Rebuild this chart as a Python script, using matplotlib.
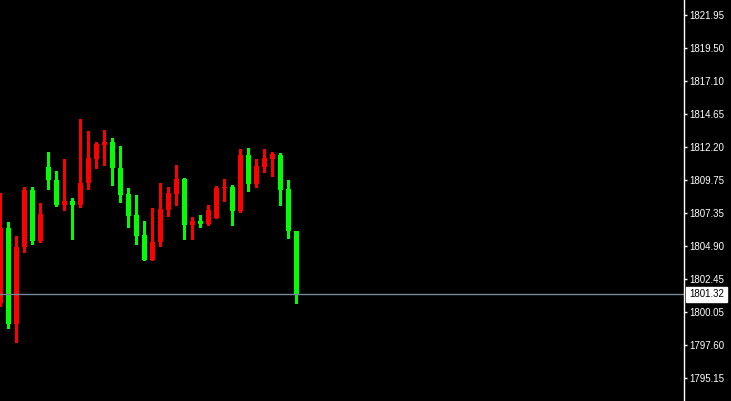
import numpy as np
import matplotlib.pyplot as plt
from matplotlib.transforms import blended_transform_factory

# ==========================
# DATA
# ==========================
opens = [1800.69, 1806.22, 1799.14, 1804.80, 1809.03, 1805.26, 1810.73, 1809.77,
         1807.92, 1808.22, 1807.92, 1809.55, 1811.32, 1812.35, 1812.57, 1810.65,
         1808.73, 1807.18, 1805.71, 1803.86, 1805.19, 1807.55, 1808.73, 1809.84,
         1806.45, 1806.74, 1806.52, 1806.96, 1809.18, 1809.25, 1807.48, 1811.61,
         1809.47, 1810.73, 1811.32, 1811.61, 1809.10, 1806.00]
highs = [1808.81, 1806.67, 1805.63, 1809.25, 1809.25, 1808.07, 1811.84, 1810.43,
         1811.32, 1808.44, 1814.27, 1813.39, 1812.57, 1813.46, 1812.87, 1812.28,
         1809.18, 1808.66, 1806.74, 1807.70, 1809.55, 1809.25, 1810.88, 1809.92,
         1807.04, 1807.18, 1807.92, 1809.33, 1809.84, 1809.40, 1812.06, 1812.13,
         1811.32, 1812.06, 1811.84, 1811.76, 1809.77, 1806.00]
lows = [1800.47, 1798.84, 1797.81, 1804.45, 1805.04, 1805.19, 1809.10, 1807.85,
        1807.55, 1805.41, 1807.77, 1809.10, 1810.65, 1810.88, 1809.40, 1808.14,
        1806.30, 1805.04, 1803.86, 1803.86, 1804.90, 1807.11, 1807.92, 1805.41,
        1805.41, 1806.30, 1806.45, 1806.96, 1808.22, 1806.45, 1807.41, 1808.96,
        1809.25, 1810.36, 1810.06, 1807.92, 1805.49, 1800.69]
closes = [1806.22, 1799.14, 1804.82, 1809.03, 1805.26, 1807.26, 1809.77, 1807.92,
          1808.22, 1807.92, 1809.55, 1811.39, 1812.43, 1812.57, 1810.65, 1808.66,
          1807.11, 1805.63, 1803.86, 1805.19, 1807.63, 1808.81, 1809.84, 1806.45,
          1806.74, 1806.52, 1807.55, 1809.18, 1809.25, 1807.48, 1811.61, 1809.47,
          1810.80, 1811.39, 1811.69, 1809.03, 1806.00, 1801.32]

price_ticks = [1795.15, 1797.60, 1800.05, 1802.45, 1804.90, 1807.35,
               1809.75, 1812.20, 1814.65, 1817.10, 1819.50, 1821.95]
bid_price = 1801.32

# ==========================
# FIGURE
# ==========================
plt.rcParams['font.family'] = ['Liberation Sans', 'DejaVu Sans']

fig = plt.figure(figsize=(7.31, 4.01), dpi=100, facecolor='black')
ax = fig.add_axes([0, 0, 684 / 731, 1])
ax.set_facecolor('black')

x = np.arange(len(opens))
o = np.array(opens)
c = np.array(closes)
colors = np.where(c < o, '#00ff00', '#ff0000')

# wicks
ax.vlines(x, lows, highs, colors=colors, linewidth=1, antialiased=False)

# bodies
bottoms = np.minimum(o, c)
heights = np.maximum(np.abs(c - o), 0.05)
ax.bar(x, heights, bottom=bottoms, width=0.625, color=colors,
       linewidth=0, antialiased=False)

# bid line
ax.axhline(bid_price, color='#778899', linewidth=1)

ax.set_xlim(-0.04, 85.46)
ax.set_ylim(1793.45, 1823.06)

# ==========================
# PRICE AXIS
# ==========================
ax.yaxis.tick_right()
ax.set_yticks(price_ticks)
ax.set_yticklabels([f"{p:.2f}" for p in price_ticks])
ax.tick_params(axis='y', colors='white', length=2.5, width=1,
               labelsize=7, pad=1.5)
ax.set_xticks([])
for side in ['left', 'top', 'bottom']:
    ax.spines[side].set_visible(False)
ax.spines['right'].set_color('white')
ax.spines['right'].set_linewidth(1)

trans = blended_transform_factory(ax.transAxes, ax.transData)
ax.text(1.0 + 5 / 684, bid_price, f"{bid_price:.2f}", transform=trans,
        color='black', fontsize=7, va='center', ha='left',
        bbox=dict(boxstyle='square,pad=0.3', facecolor='white',
                  edgecolor='white'),
        clip_on=False, zorder=5)

fig.savefig('out.png', dpi=100, facecolor='black')
